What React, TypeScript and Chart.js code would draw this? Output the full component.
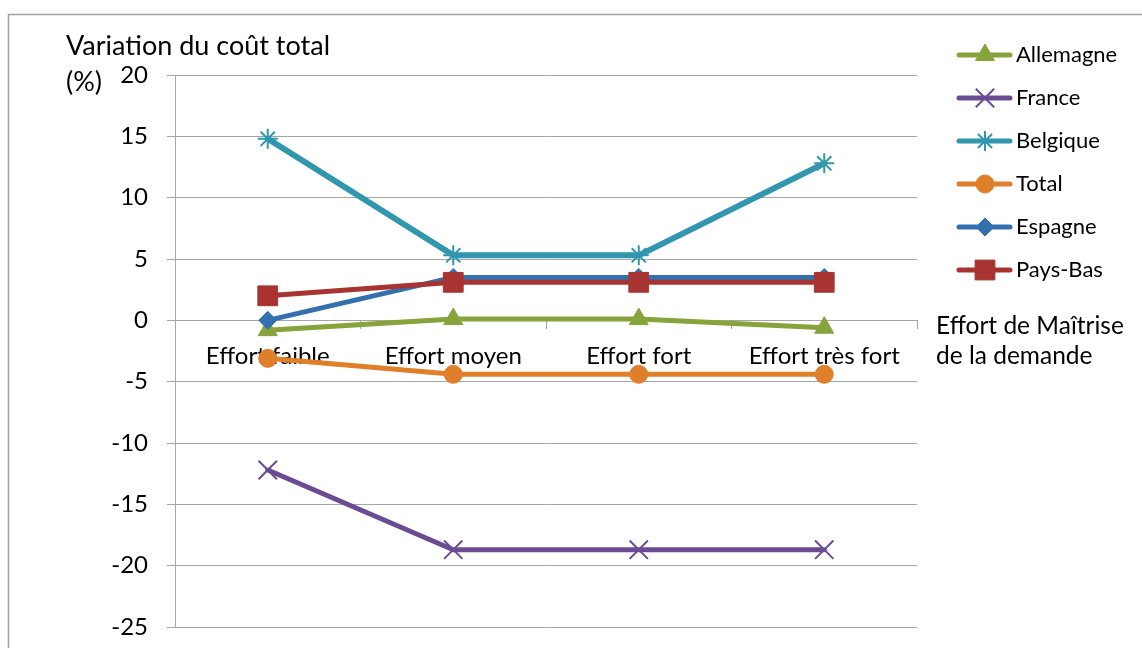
import React, { useEffect, useRef } from 'react';
import { Chart, registerables } from 'chart.js';

Chart.register(...registerables);

const categories = ['Effort faible', 'Effort moyen', 'Effort fort', 'Effort très fort'];
const allemagne = [-0.8, 0.1, 0.1, -0.6];
const france = [-12.2, -18.7, -18.7, -18.7];
const belgique = [14.8, 5.3, 5.3, 12.8];
const total = [-3.1, -4.4, -4.4, -4.4];
const espagne = [0, 3.5, 3.5, 3.5];
const paysBas = [2.0, 3.1, 3.1, 3.1];

const yMin = -25;
const yMax = 20;
const yStep = 5;
const yTitle = ['Variation du coût total', '(%)'];
const xTitle = ['Effort de Maîtrise', 'de la demande'];

const FONT = 'Lato';
const GRID = '#A6A6A6';

type Series = {
  name: string;
  data: number[];
  color: string;
  style: string;
  radius: number;
  pbw: number;
  width: number;
};

const series: Series[] = [
  { name: 'Allemagne', data: allemagne, color: '#86A33C', style: 'triangle', radius: 11, pbw: 1, width: 5 },
  { name: 'France', data: france, color: '#6B4C93', style: 'crossRot', radius: 13, pbw: 2, width: 5 },
  { name: 'Belgique', data: belgique, color: '#3097AE', style: 'star', radius: 10, pbw: 2, width: 6 },
  { name: 'Total', data: total, color: '#E07F2A', style: 'circle', radius: 9, pbw: 1, width: 5 },
  { name: 'Espagne', data: espagne, color: '#3470AE', style: 'rectRot', radius: 9, pbw: 1, width: 5 },
  { name: 'Pays-Bas', data: paysBas, color: '#A83432', style: 'rect', radius: 14, pbw: 1, width: 5 },
];

function drawMarker(ctx: CanvasRenderingContext2D, s: Series, x: number, y: number) {
  const r = s.radius;
  ctx.save();
  ctx.fillStyle = s.color;
  ctx.strokeStyle = s.color;
  ctx.lineWidth = s.pbw;
  ctx.beginPath();
  const cross = (rot: number) => {
    for (let k = 0; k < 2; k++) {
      const a = rot + (k * Math.PI) / 2;
      ctx.moveTo(x - Math.cos(a) * r, y - Math.sin(a) * r);
      ctx.lineTo(x + Math.cos(a) * r, y + Math.sin(a) * r);
    }
  };
  switch (s.style) {
    case 'triangle':
      ctx.moveTo(x, y - r);
      ctx.lineTo(x + 0.866 * r, y + 0.5 * r);
      ctx.lineTo(x - 0.866 * r, y + 0.5 * r);
      ctx.closePath();
      ctx.fill();
      ctx.stroke();
      break;
    case 'circle':
      ctx.arc(x, y, r, 0, Math.PI * 2);
      ctx.fill();
      ctx.stroke();
      break;
    case 'rectRot':
      ctx.moveTo(x - r, y);
      ctx.lineTo(x, y - r);
      ctx.lineTo(x + r, y);
      ctx.lineTo(x, y + r);
      ctx.closePath();
      ctx.fill();
      ctx.stroke();
      break;
    case 'rect': {
      const h = Math.SQRT1_2 * r;
      ctx.rect(x - h, y - h, 2 * h, 2 * h);
      ctx.fill();
      ctx.stroke();
      break;
    }
    case 'crossRot':
      cross(Math.PI / 4);
      ctx.stroke();
      break;
    case 'star':
      cross(0);
      cross(Math.PI / 4);
      ctx.stroke();
      break;
  }
  ctx.restore();
}

const decorPlugin = {
  id: 'decor',
  afterDraw(chart: any) {
    const ctx: CanvasRenderingContext2D = chart.ctx;
    ctx.save();
    // outer border
    ctx.strokeStyle = '#A0A0A0';
    ctx.lineWidth = 1.5;
    ctx.beginPath();
    ctx.moveTo(8.5, 648);
    ctx.lineTo(8.5, 14.5);
    ctx.lineTo(1142, 14.5);
    ctx.stroke();

    ctx.fillStyle = '#000';
    ctx.textAlign = 'left';
    ctx.textBaseline = 'middle';
    ctx.font = `27px ${FONT}`;
    ctx.fillText(yTitle[0], 66, 46);
    ctx.fillText(yTitle[1], 66, 82);

    const y0 = chart.scales.y.getPixelForValue(0);
    ctx.font = `24.5px ${FONT}`;
    ctx.fillText(xTitle[0], 936, y0 + 6);
    ctx.fillText(xTitle[1], 936, y0 + 36);

    // legend
    ctx.font = `22px ${FONT}`;
    series.forEach((s, i) => {
      const cy = 55 + i * 43;
      ctx.save();
      ctx.strokeStyle = s.color;
      ctx.lineWidth = 5;
      ctx.lineCap = 'round';
      ctx.beginPath();
      ctx.moveTo(959, cy);
      ctx.lineTo(1010, cy);
      ctx.stroke();
      ctx.restore();
      drawMarker(ctx, s, 985, cy);
      ctx.fillStyle = '#000';
      ctx.fillText(s.name, 1016, cy);
    });
    ctx.restore();
  },
};

export default function App() {
  const ref = useRef<HTMLCanvasElement | null>(null);
  useEffect(() => {
    if (!ref.current) return;
    Chart.defaults.font.family = FONT;
    const chart = new Chart(ref.current, {
      type: 'line',
      data: {
        labels: categories,
        datasets: series.map((s, i) => ({
          label: s.name,
          data: s.data,
          borderColor: s.color,
          backgroundColor: s.color,
          borderWidth: s.width,
          borderCapStyle: 'round',
          borderJoinStyle: 'round',
          pointStyle: s.style as any,
          pointRadius: s.radius,
          pointHoverRadius: s.radius,
          pointBackgroundColor: s.color,
          pointBorderColor: s.color,
          pointBorderWidth: s.pbw,
          tension: 0,
          fill: false,
          clip: false,
          order: series.length - i,
        })),
      },
      options: {
        responsive: false,
        animation: false,
        devicePixelRatio: 1,
        layout: { padding: { left: 0, right: 225, top: 75, bottom: 21 } },
        plugins: {
          legend: { display: false },
          title: { display: false },
          tooltip: { enabled: false },
        },
        scales: {
          x: {
            type: 'category',
            offset: true,
            position: { y: 0 } as any,
            grid: {
              display: true,
              drawOnChartArea: false,
              drawTicks: true,
              tickLength: 8,
              offset: true,
              color: GRID,
              lineWidth: 1,
            },
            border: { display: true, color: GRID, width: 1 },
            ticks: {
              maxRotation: 0,
              minRotation: 0,
              autoSkip: false,
              padding: 14,
              color: '#000',
              font: { family: FONT, size: 24 },
            },
            afterFit: (scale: any) => {
              scale.height = 0;
              scale.paddingLeft = 0;
              scale.paddingRight = 0;
            },
          },
          y: {
            type: 'linear',
            min: yMin,
            max: yMax,
            ticks: {
              stepSize: yStep,
              padding: 19,
              color: '#000',
              font: { family: FONT, size: 24 },
            },
            grid: {
              color: GRID,
              lineWidth: 1,
              tickLength: 8,
              drawTicks: true,
            },
            border: { display: true, color: GRID, width: 1 },
            afterFit: (scale: any) => {
              scale.width = 175;
              scale.paddingTop = 0;
              scale.paddingBottom = 0;
            },
          },
        },
      },
      plugins: [decorPlugin],
    });
    return () => chart.destroy();
  }, []);

  return (
    <div style={{ position: 'fixed', left: 0, top: 0, width: 1142, height: 648, background: '#fff' }}>
      <canvas ref={ref} width={1142} height={648} style={{ display: 'block' }} />
    </div>
  );
}
